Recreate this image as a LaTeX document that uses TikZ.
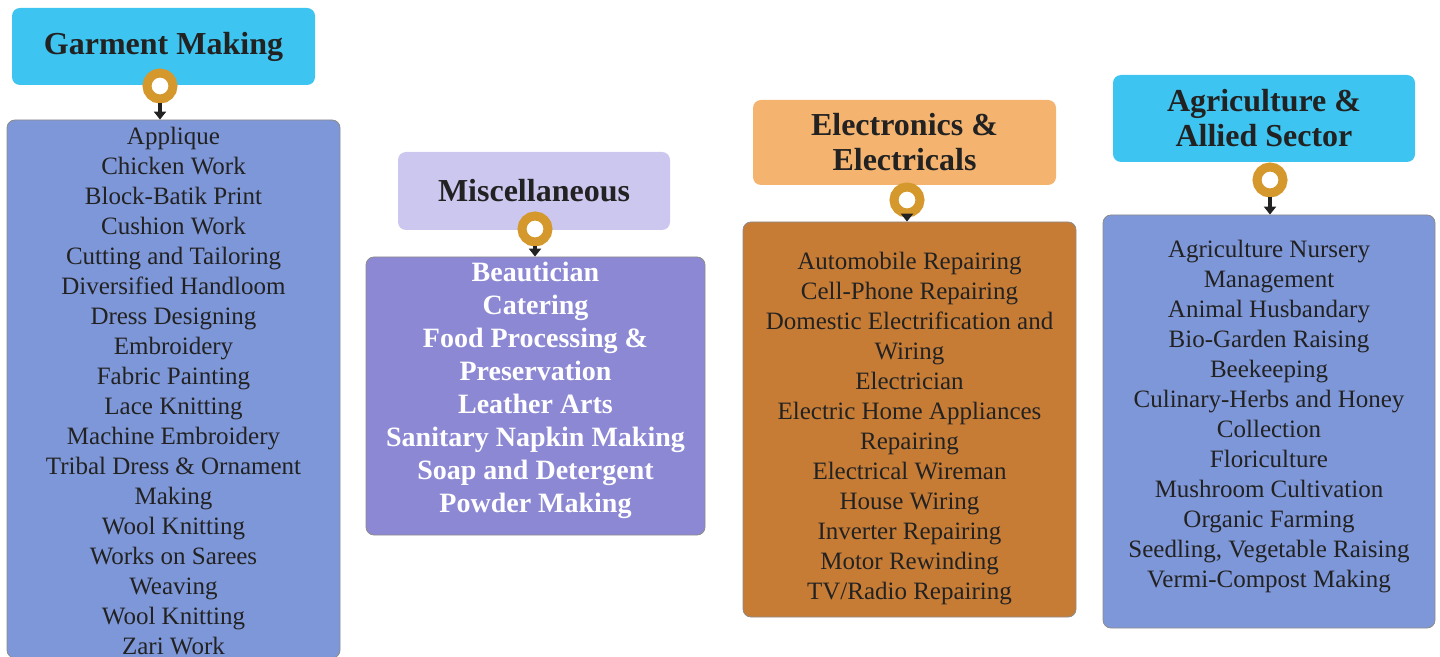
\documentclass[tikz,border=0pt]{standalone}
\usepackage{fontspec}
\setmainfont{Liberation Serif}
\usetikzlibrary{arrows.meta}
\usepackage{xcolor}

\definecolor{headcyan}{HTML}{3EC4F0}
\definecolor{listblue}{HTML}{7E97D8}
\definecolor{headlilac}{HTML}{CCC7EE}
\definecolor{listpurple}{HTML}{8C88D4}
\definecolor{headpeach}{HTML}{F4B470}
\definecolor{listbrown}{HTML}{C77C36}
\definecolor{ringgold}{HTML}{D4982C}
\definecolor{inkdark}{HTML}{222222}

\begin{document}
\begin{tikzpicture}[x=0.5pt, y=-0.5pt,
    head/.style={rounded corners=4pt, inner sep=0pt, align=center, text=inkdark,
        font=\fontsize{16}{17.5}\selectfont\bfseries},
    list/.style={rounded corners=4pt, draw=black!45, line width=0.4pt, inner sep=0pt},
    lines/.style={inner sep=0pt, align=center, text=inkdark, font=\fontsize{12.5}{15}\selectfont},
    boldlines/.style={inner sep=0pt, align=center, text=white, font=\fontsize{14}{16.5}\selectfont\bfseries},
    ring/.style={circle, draw=ringgold, line width=4.5pt, fill=white,
        minimum size=13pt, inner sep=0pt},
    link/.style={draw=inkdark, line width=1.6pt, -{Triangle[length=4pt,width=6pt]}}]
    \useasboundingbox (0,0) rectangle (1440,657);

    % First, locate the heading boxes and name them
        \node[head, fill=headcyan, minimum width=151.5pt, minimum height=38.5pt] (garment) at (163.5,46.5) {Garment Making};
        \node[head, fill=headlilac, minimum width=136pt, minimum height=39pt] (misc) at (534,191) {Miscellaneous};
        \node[head, fill=headpeach, minimum width=151.5pt, minimum height=42.5pt] (elec) at (904.5,142.5) {Electronics \&\\Electricals};
        \node[head, fill=headcyan, minimum width=151pt, minimum height=43.5pt] (agri) at (1264,118.5) {Agriculture \&\\Allied Sector};

    % Then the boxes for the lists
        \node[list, fill=listblue, minimum width=166.5pt, minimum height=269pt] (garmentlist) at (173.5,389) {};
        \node[list, fill=listpurple, minimum width=169.5pt, minimum height=139pt] (misclist) at (535.5,396) {};
        \node[list, fill=listbrown, minimum width=166.5pt, minimum height=197.5pt] (eleclist) at (909.5,419.5) {};
        \node[list, fill=listblue, minimum width=166pt, minimum height=206.5pt] (agrilist) at (1269,421.5) {};

    % and the trades in them
        \node[lines] (garmentitems) at (173.5,391) {Applique\\Chicken Work\\Block-Batik Print\\Cushion Work\\Cutting and Tailoring\\Diversified Handloom\\Dress Designing\\Embroidery\\Fabric Painting\\Lace Knitting\\Machine Embroidery\\Tribal Dress \& Ornament\\Making\\Wool Knitting\\Works on Sarees\\Weaving\\Wool Knitting\\Zari Work};
        \node[boldlines] (miscitems) at (535.5,390) {Beautician\\Catering\\Food Processing \&\\Preservation\\Leather Arts\\Sanitary Napkin Making\\Soap and Detergent\\Powder Making};
        \node[lines] (elecitems) at (909.5,429) {Automobile Repairing\\Cell-Phone Repairing\\Domestic Electrification and\\Wiring\\Electrician\\Electric Home Appliances\\Repairing\\Electrical Wireman\\House Wiring\\Inverter Repairing\\Motor Rewinding\\TV/Radio Repairing};
        \node[lines] (agriitems) at (1269,417) {Agriculture Nursery\\Management\\Animal Husbandary\\Bio-Garden Raising\\Beekeeping\\Culinary-Herbs and Honey\\Collection\\Floriculture\\Mushroom Cultivation\\Organic Farming\\Seedling, Vegetable Raising\\Vermi-Compost Making};

    % Now the rings and the arrows:
        \node[ring] (garmentring) at (160,86) {};
        \node[ring] (miscring) at (535,229) {};
        \node[ring] (elecring) at (907,200) {};
        \node[ring] (agriring) at (1270,180) {};
        \draw[link] (garmentring.south) -- (garmentlist.north -| garmentring.south);
        \draw[link] (miscring.south) -- (misclist.north -| miscring.south);
        \draw[link] (elecring.south) -- (eleclist.north -| elecring.south);
        \draw[link] (agriring.south) -- (agrilist.north -| agriring.south);
    \end{tikzpicture}
\end{document}
